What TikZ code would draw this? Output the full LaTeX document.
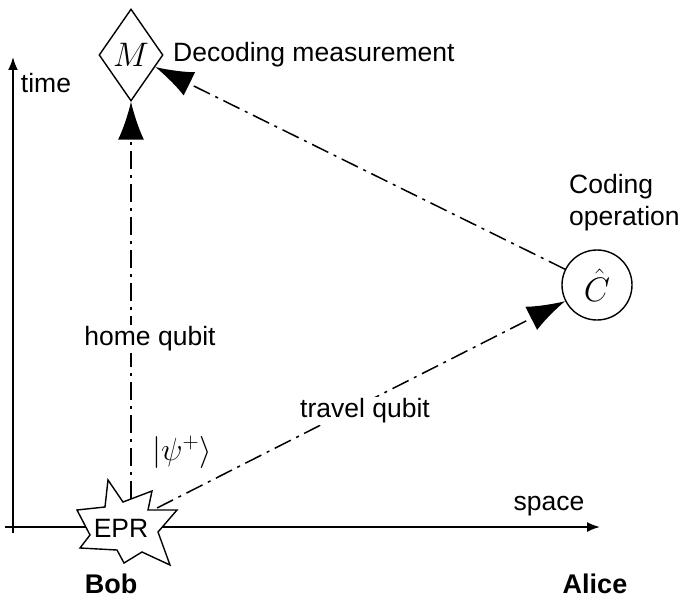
\RequirePackage{fix-cm}
\documentclass[tikz,border=0pt]{standalone}
\usepackage[no-math]{fontspec}
\setmainfont{Liberation Sans}
\usetikzlibrary{shapes.geometric,arrows.meta}
\begin{document}
\begin{tikzpicture}[x=1pt,y=-1pt,
  lbl/.style={font=\fontsize{26.5}{32}\selectfont, inner sep=0pt},
  bold/.style={font=\fontsize{27}{32}\selectfont\bfseries, inner sep=0pt},
  mth/.style={font=\fontsize{34}{40}\selectfont},
  axis/.style={line width=1.8pt, -{Latex[length=13pt,width=10pt]}},
  dd/.style={line width=1.5pt, dash pattern=on 18pt off 6pt on 3pt off 6pt,
    -{Latex[length=38pt,width=26pt]}},
  shp/.style={draw, line width=1.4pt, fill=white}]
\useasboundingbox (0,0) rectangle (687,599);
% axes
\coordinate (t0) at (13,533);
\coordinate (t1) at (13,57);
\coordinate (s0) at (5,527);
\coordinate (s1) at (600,527);
\draw[axis] (t0) -- (t1);
\draw[axis] (s0) -- (s1);
\node[lbl] (time) at (46,83) {time};
\node[lbl] (space) at (549,506) {space};
% EPR starburst
\draw[shp, line join=miter] (108,480) -- (123,502) -- (152,491) -- (148,510) -- (177,510)
  -- (158,532) -- (170,565) -- (142,552) -- (124,563) -- (117,550) -- (80,548)
  -- (90,535) -- (77,510) -- (105,507) -- cycle;
\node[lbl] (EPR) at (121,528) {EPR};
\coordinate (eprtop) at (131,499);
\coordinate (eprright) at (157,508);
% nodes
\node[shp, mth, diamond, minimum width=64pt, minimum height=92pt, inner sep=0pt] (M) at (131,55)
  {$M$};
\node[shp, mth, circle, minimum size=70pt, inner sep=0pt] (C) at (597,285)
  {$\hat{C}$};
\node[lbl, anchor=west] (dec) at (173,55) {Decoding measurement};
\node[lbl, anchor=west, align=left] (cod) at (569,203) {Coding\\operation};
% connectors
\draw[dd] (eprtop) -- (M.south);
\draw[dd] (eprright) -- (C);
\draw[dd] (C) -- (M);
% labels
\node[lbl, fill=white, inner sep=2pt] (home) at (150,339) {home qubit};
\node[lbl, fill=white, inner sep=2pt] (travel) at (365,411) {travel qubit};
\node[inner sep=0pt, font=\fontsize{32}{38}\selectfont] (psi) at (182,452) {$|\psi^+\rangle$};
\node[bold] (bob) at (111,584) {Bob};
\node[bold] (alice) at (595,584) {Alice};
\end{tikzpicture}
\end{document}
